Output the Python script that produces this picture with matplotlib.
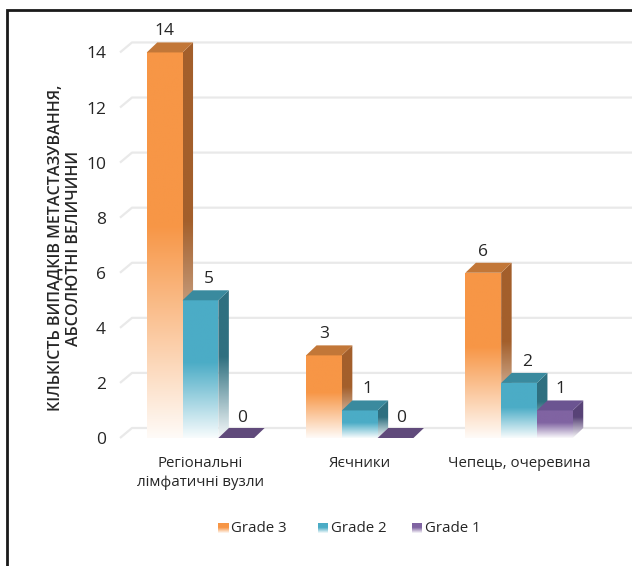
import numpy as np
import matplotlib
matplotlib.use("Agg")
import matplotlib.pyplot as plt
from matplotlib.patches import Polygon, Rectangle
from matplotlib.colors import to_rgb

plt.rcParams["font.family"] = ["Open Sans", "DejaVu Sans"]

# ---- data ----
categories = ["Регіональні\nлімфатичні вузли", "Яєчники", "Чепець, очеревина"]
series_names = ["Grade 3", "Grade 2", "Grade 1"]
grade3 = [14, 3, 6]
grade2 = [5, 1, 2]
grade1 = [0, 0, 1]
yticks = [0, 2, 4, 6, 8, 10, 12, 14]
ylabel = "КІЛЬКІСТЬ ВИПАДКІВ МЕТАСТАЗУВАННЯ,\nАБСОЛЮТНІ ВЕЛИЧИНИ"

series = [grade3, grade2, grade1]

# ---- styling ----
front_colors = ["#F79646", "#4BACC6", "#8064A2"]
side_colors = ["#A35F2B", "#2F7080", "#584377"]
top_colors = ["#C27738", "#3A8A9E", "#6B5491"]
zero_color = "#604A7B"
text_color = "#262626"
grid_color = "#E9E9E9"

W, H = 632, 566
fig = plt.figure(figsize=(W / 100, H / 100), dpi=100)

ax_left, ax_right = 120, 632
base_px, px_per_unit = 438, 27.54
ymax = 15
group_px = 159.3
ax = fig.add_axes([ax_left / W, (H - base_px) / H,
                   (ax_right - ax_left) / W, ymax * px_per_unit / H])
xmin = -0.505
xmax = xmin + (ax_right - ax_left) / group_px
ax.set_xlim(xmin, xmax)
ax.set_ylim(0, ymax)
ax.set_autoscale_on(False)
for s in ax.spines.values():
    s.set_visible(False)
ax.set_xticks([])
ax.set_yticks(yticks)
ax.set_yticklabels([str(v) for v in yticks])
ax.tick_params(axis="y", length=0, pad=10, labelsize=12.5, labelcolor=text_color)

ux = 1.0 / group_px      # data units per pixel (x)
uy = 1.0 / px_per_unit   # data units per pixel (y)
bw = 35.8 * ux
dx, dy = 10.5 * ux, 10.0 * uy

# back-wall gridlines with the short floor diagonal
for v in yticks:
    ax.plot([xmin, xmin + 12 * ux, xmax], [v, v + dy, v + dy],
            color=grid_color, lw=1.6, clip_on=False, zorder=0.5,
            solid_capstyle="butt")


def fade_image(color, n=256):
    t = np.linspace(1, 0, n)  # top row first
    f = np.clip(0.04 + 0.96 * t / 0.55, 0, 1)
    rgb = np.array(to_rgb(color))
    img = 1 - f[:, None] * (1 - rgb[None, :])
    return img[:, None, :]


def shaded_poly(verts, color, z):
    poly = Polygon(verts, closed=True, facecolor="none", edgecolor="none",
                   transform=ax.transData)
    xs = [p[0] for p in verts]
    ys = [p[1] for p in verts]
    im = ax.imshow(fade_image(color), extent=(min(xs), max(xs), min(ys), max(ys)),
                   aspect="auto", origin="upper", interpolation="bilinear",
                   zorder=z)
    im.set_clip_path(poly)
    im.set_clip_on(True)


label_dx = [0, 8, 6]

for ci in range(len(categories)):
    for si, vals in enumerate(series):
        v = vals[ci]
        x0 = ci + (si - 1) * bw - bw / 2
        x1 = x0 + bw
        z = 2 + ci * 3 + si * 0.5
        if v > 0:
            shaded_poly([(x1, 0), (x1 + dx, dy), (x1 + dx, v + dy), (x1, v)],
                        side_colors[si], z)
            shaded_poly([(x0, 0), (x1, 0), (x1, v), (x0, v)], front_colors[si], z + 0.1)
            ax.add_patch(Polygon([(x0, v), (x1, v), (x1 + dx, v + dy), (x0 + dx, v + dy)],
                                 closed=True, facecolor=top_colors[si],
                                 edgecolor="none", zorder=z + 0.2, clip_on=False))
            ly = 21
        else:
            ax.add_patch(Polygon([(x0, v), (x1, v), (x1 + dx, v + dy), (x0 + dx, v + dy)],
                                 closed=True, facecolor=zero_color,
                                 edgecolor="none", zorder=z + 0.2, clip_on=False))
            ly = 20
        ax.annotate(str(v), xy=(x0 + bw / 2, v), xytext=(label_dx[si] if v > 0 else 5.5, ly),
                    textcoords="offset pixels", ha="center", va="center",
                    fontsize=12.5, color=text_color, zorder=20, annotation_clip=False)

# category labels under the floor
for ci, cat in enumerate(categories):
    ax.annotate(cat, xy=(ci, 0), xytext=(0, -18), textcoords="offset pixels",
                ha="center", va="top", fontsize=10.8, color=text_color,
                linespacing=1.4, annotation_clip=False)

# axis title
fig.text(65 / W, 1 - 248 / H, ylabel, rotation=90, ha="center", va="center",
         multialignment="center", fontsize=11.5, fontweight=600,
         color=text_color, linespacing=1.2)

# legend
legend_sq_x = [218, 318, 412]
for si, name in enumerate(series_names):
    sx = legend_sq_x[si]
    sq_y = 523
    lax = fig.add_axes([sx / W, 1 - (sq_y + 10) / H, 10 / W, 10 / H])
    lax.imshow(fade_image(front_colors[si]), extent=(0, 1, 0, 1),
               aspect="auto", origin="upper")
    lax.axis("off")
    fig.text((sx + 13) / W, 1 - 528 / H, name, ha="left", va="center",
             fontsize=10.8, color=text_color)

# outer frame (left and top edges visible)
fig.patches.append(Rectangle((7 / W, -0.2), 1.5, 0.2 + (H - 10) / H,
                             transform=fig.transFigure, fill=False,
                             edgecolor="#1a1a1a", lw=2))

fig.savefig("out.png", dpi=100)
